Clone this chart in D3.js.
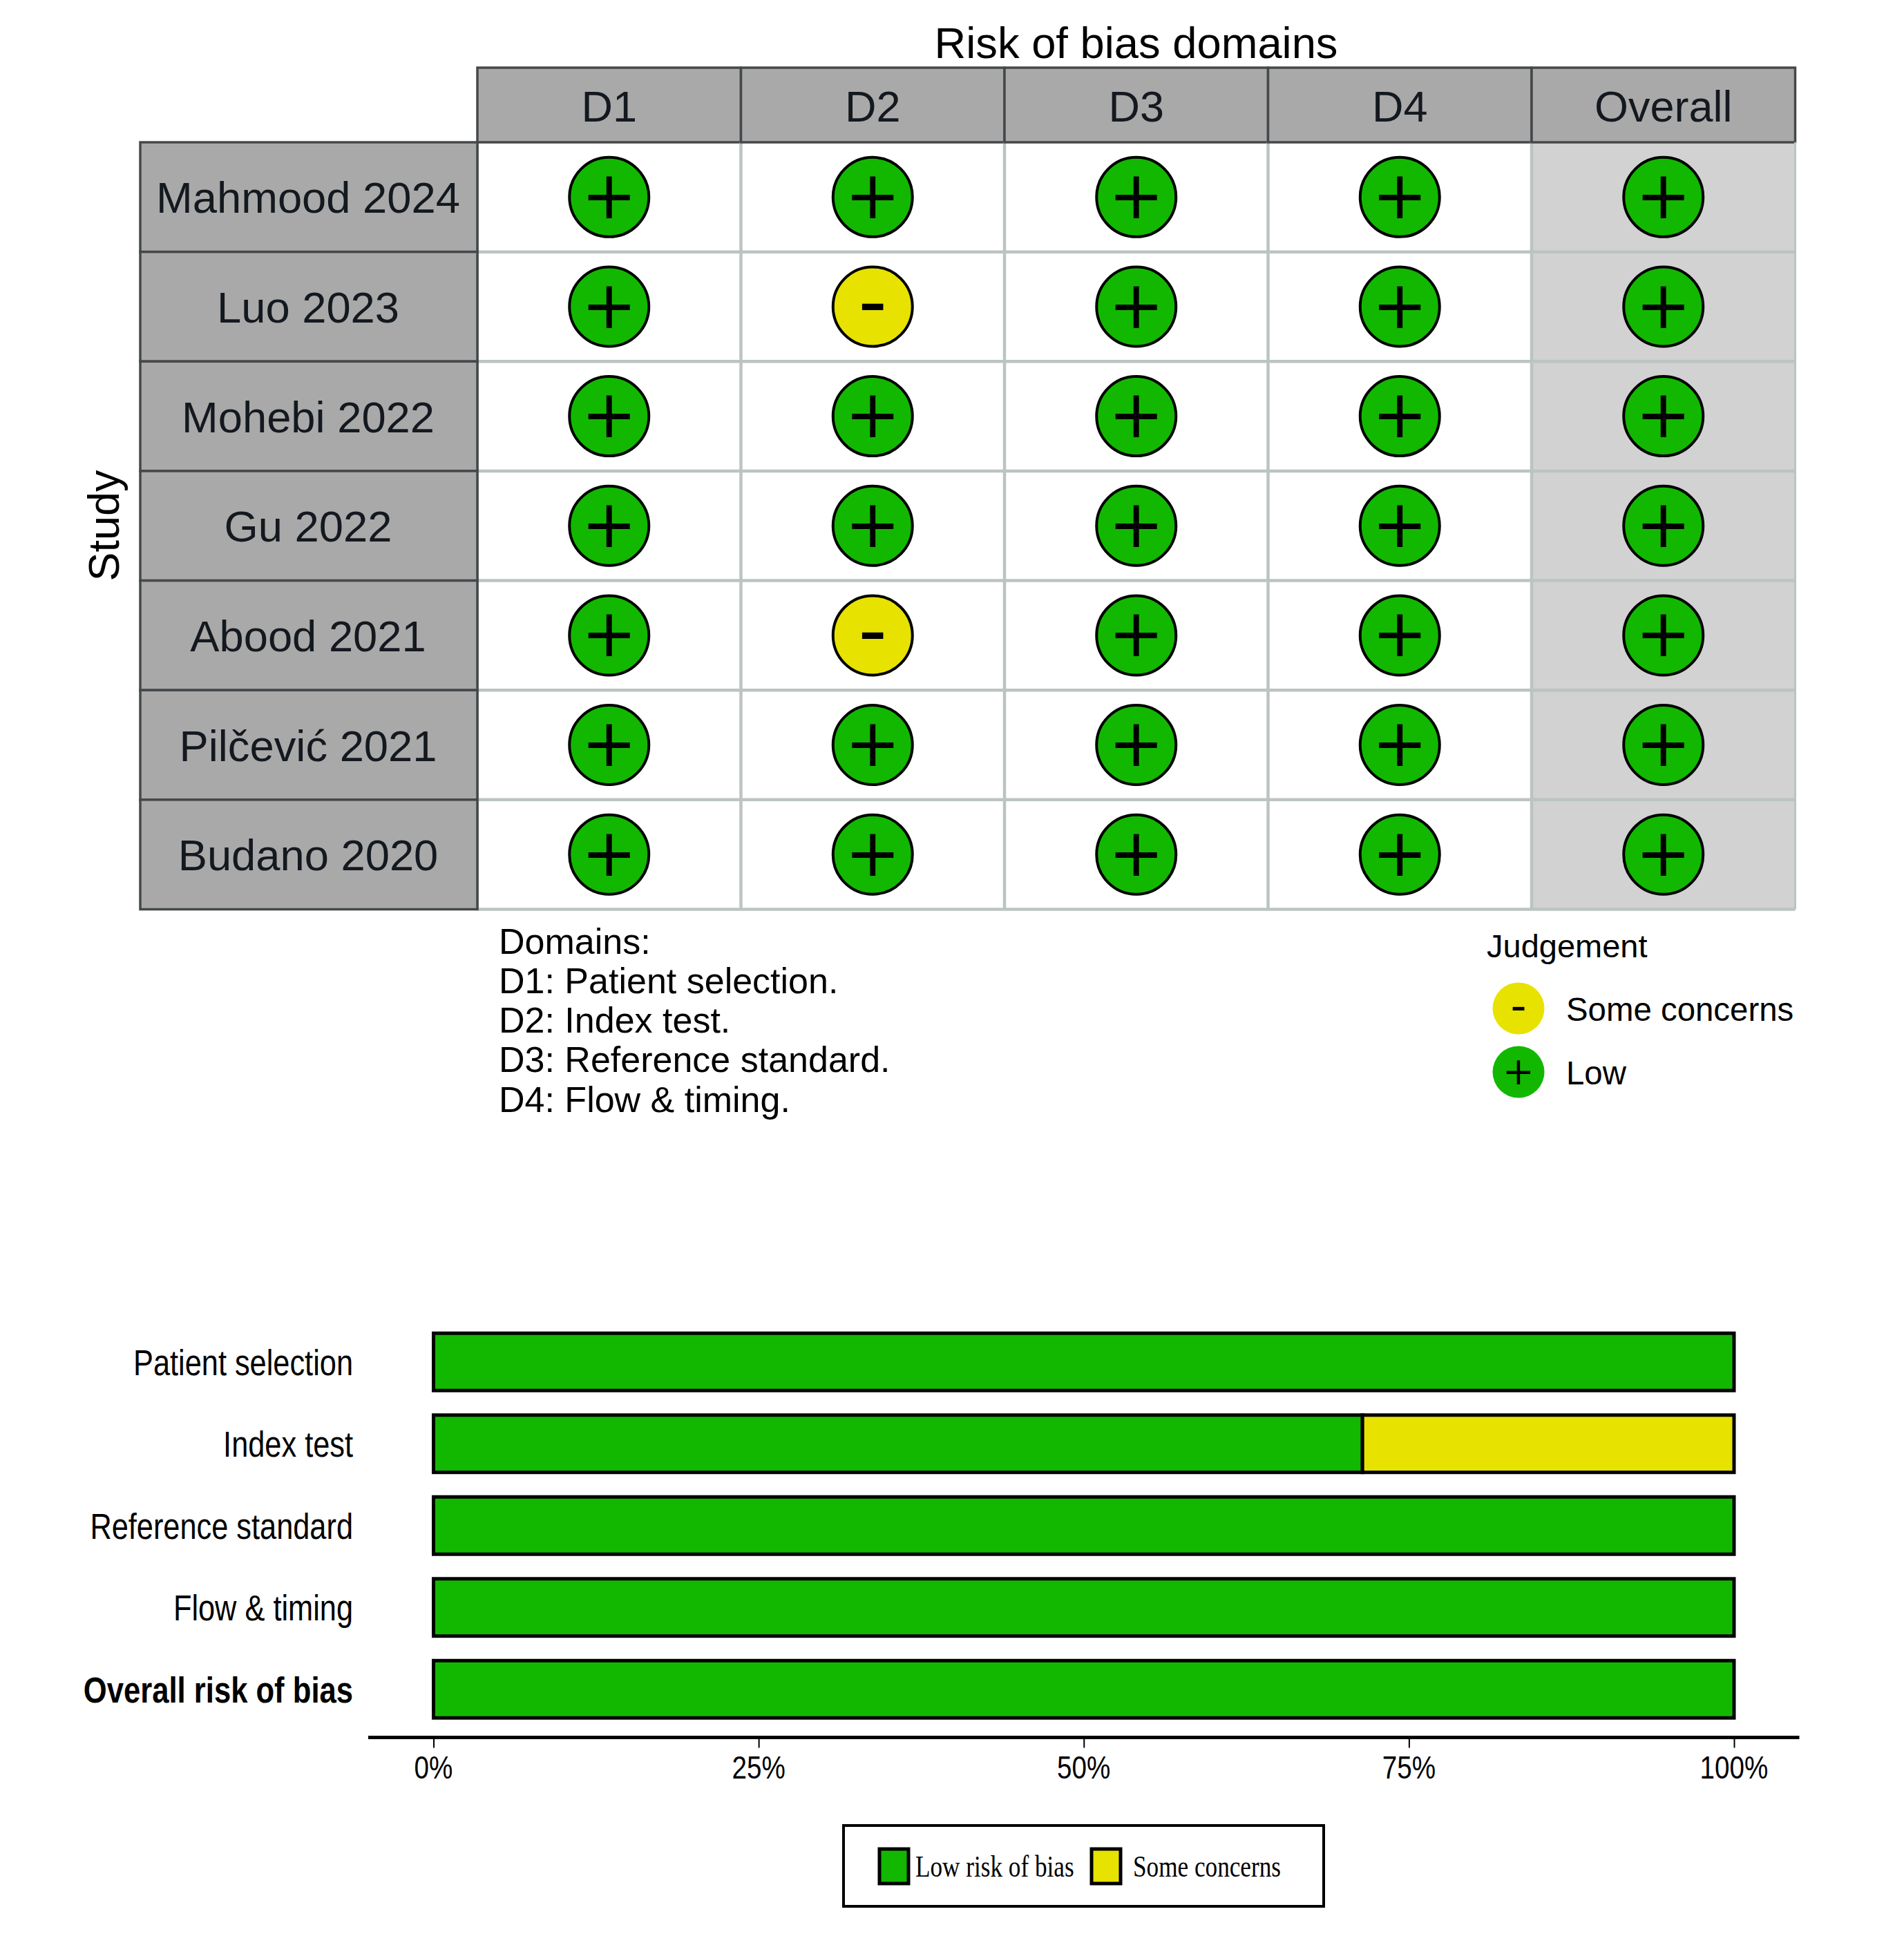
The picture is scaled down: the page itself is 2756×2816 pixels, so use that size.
<!DOCTYPE html>
<html><head><meta charset="utf-8">
<script src="https://cdn.jsdelivr.net/npm/d3@7/dist/d3.min.js"></script>
<style>html,body{margin:0;padding:0;background:#fff}svg{display:block}text{font-family:"Liberation Sans",Arial,sans-serif}</style>
</head><body><svg id="c" width="2756" height="2816"></svg>
<script>
const studies = ["Mahmood 2024","Luo 2023","Mohebi 2022","Gu 2022","Abood 2021","Pilčević 2021","Budano 2020"];
const domains = ["D1","D2","D3","D4","Overall"];
const judgeD1 = ["+","+","+","+","+","+","+"];
const judgeD2 = ["+","-","+","+","-","+","+"];
const judgeD3 = ["+","+","+","+","+","+","+"];
const judgeD4 = ["+","+","+","+","+","+","+"];
const judgeOverall = ["+","+","+","+","+","+","+"];
const domainNotes = ["Domains:","D1: Patient selection.","D2: Index test.","D3: Reference standard.","D4: Flow & timing."];
const judgementLegend = [["-","Some concerns"],["+","Low"]];
const barCategories = ["Patient selection","Index test","Reference standard","Flow & timing","Overall risk of bias"];
const lowRisk = [100,71.43,100,100,100];
const someConcerns = [0,28.57,0,0,0];
const pctTicks = [0,25,50,75,100];
const barLegend = ["Low risk of bias","Some concerns"];

const GREEN="#12b800", YELLOW="#e8e200", HEAD="#a9a9a9", OVER="#d1d2d1", GRID="#bcc4c0", EDGE="#45484a", INK="#14181f";
const svg=d3.select("#c");
const allJudge=[judgeD1,judgeD2,judgeD3,judgeD4,judgeOverall];

function label(g,x,y,s,size,opts={}){
  const sx=opts.sx||1;
  return g.append("text").attr("transform",`translate(${x},${y}) scale(${sx},1)`)
    .attr("text-anchor",opts.anchor||"start").attr("font-size",size)
    .attr("font-weight",opts.weight||"normal").attr("fill",opts.fill||"#000")
    .style("font-family",opts.family||null).text(s);
}
function glyph(g,cx,cy,j,k){
  const size=j==="+"?96*k:(k<1?64:116);
  const dy=j==="+"?0.3135:0.27;
  g.append("text").attr("x",cx).attr("y",cy+dy*size+0.5).attr("text-anchor","middle")
   .attr("font-size",size).attr("fill","#000")
   .style("font-family","DejaVu Sans").text(j);
}

/* traffic-light panel */
const x=d3.scaleBand().domain(domains).range([691,2598.5]);
const y=d3.scaleBand().domain(studies).range([206,1316.5]);
const t=svg.append("g");
label(t,1644.5,84,"Risk of bias domains",63.3,{anchor:"middle"});
t.append("rect").attr("x",x("Overall")).attr("y",y.range()[0]).attr("width",x.bandwidth()).attr("height",y.range()[1]-y.range()[0]).attr("fill",OVER);
studies.forEach(s=>{
  t.append("line").attr("x1",x.range()[0]).attr("x2",x.range()[1]).attr("y1",y(s)+y.bandwidth()).attr("y2",y(s)+y.bandwidth()).attr("stroke",GRID).attr("stroke-width",4.5);
});
domains.forEach(d=>{
  t.append("line").attr("x1",x(d)).attr("x2",x(d)).attr("y1",y.range()[0]).attr("y2",y.range()[1]).attr("stroke",GRID).attr("stroke-width",4.5);
  t.append("rect").attr("x",x(d)).attr("y",98).attr("width",x.bandwidth()).attr("height",108).attr("fill",HEAD).attr("stroke",EDGE).attr("stroke-width",3.5);
  label(t,x(d)+x.bandwidth()/2,175.5,d,63,{anchor:"middle",fill:INK});
});
t.append("line").attr("x1",x.range()[1]).attr("x2",x.range()[1]).attr("y1",y.range()[0]).attr("y2",y.range()[1]).attr("stroke",GRID).attr("stroke-width",3);
studies.forEach(s=>{
  t.append("rect").attr("x",203).attr("y",y(s)).attr("width",488).attr("height",y.bandwidth()).attr("fill",HEAD).attr("stroke",EDGE).attr("stroke-width",3.5);
  label(t,446,y(s)+y.bandwidth()/2+23,s,63.3,{anchor:"middle",fill:INK});
});
domains.forEach((d,i)=>{
  allJudge[i].forEach((j,r)=>{
    const cx=x(d)+x.bandwidth()/2, cy=y(studies[r])+y.bandwidth()/2;
    t.append("circle").attr("cx",cx).attr("cy",cy).attr("r",57.5).attr("fill",j==="+"?GREEN:YELLOW).attr("stroke","#000").attr("stroke-width",4);
    glyph(t,cx,cy,j,1);
  });
});
label(t,0,0,"Study",63,{anchor:"middle"}).attr("transform","translate(172,761) rotate(-90)");
domainNotes.forEach((s,i)=>label(t,722,1380.5+i*57.3,s,52));
label(t,2152,1386,"Judgement",47);
judgementLegend.forEach(([j,s],i)=>{
  const cy=1460+i*92;
  t.append("circle").attr("cx",2198).attr("cy",cy).attr("r",37.5).attr("fill",j==="+"?GREEN:YELLOW);
  glyph(t,2198,cy,j,0.57);
  label(t,2267,cy+18,s,47.4);
});

/* summary panel */
const X=d3.scaleLinear().domain([0,100]).range([627.5,2510]);
const Y=d3.scaleBand().domain(barCategories).range([1912.5,2505]).paddingInner(0.3).paddingOuter(0.15);
const b=svg.append("g");
barCategories.forEach((c,i)=>{
  const h=Y.bandwidth();
  [[0,lowRisk[i],GREEN],[lowRisk[i],lowRisk[i]+someConcerns[i],YELLOW]].forEach(([a,e,col])=>{
    if(e<=a) return;
    b.append("rect").attr("x",X(a)).attr("y",Y(c)).attr("width",X(e)-X(a)).attr("height",h).attr("fill",col).attr("stroke","#000").attr("stroke-width",5);
  });
  label(b,511,Y(c)+h/2+19,c,51,{anchor:"end",sx:i===4?.855:.85,weight:i===4?"bold":"normal"});
});
const axis=b.append("g").attr("transform","translate(0,2515.5)").call(d3.axisBottom(X).tickValues(pctTicks).tickFormat(d=>d+"%").tickSize(15).tickPadding(0));
axis.select(".domain").remove();
axis.append("line").attr("x1",533).attr("x2",2604.5).attr("stroke","#000").attr("stroke-width",5);
axis.selectAll(".tick line").attr("stroke","#000").attr("stroke-width",2);
axis.selectAll(".tick text").remove();
pctTicks.forEach(v=>label(b,X(v),2575,v+"%",46,{anchor:"middle",sx:.84}));
const L=svg.append("g");
L.append("rect").attr("x",1221).attr("y",2643).attr("width",695).attr("height",117).attr("fill","#fff").attr("stroke","#000").attr("stroke-width",4);
[[1273,GREEN,1325,barLegend[0]],[1580,YELLOW,1640,barLegend[1]]].forEach(([kx,col,tx,s])=>{
  L.append("rect").attr("x",kx).attr("y",2677).attr("width",42).attr("height",50).attr("fill",col).attr("stroke","#000").attr("stroke-width",5);
  label(L,tx,2717,s,44,{sx:.8,family:"Liberation Serif"});
});
</script></body></html>
